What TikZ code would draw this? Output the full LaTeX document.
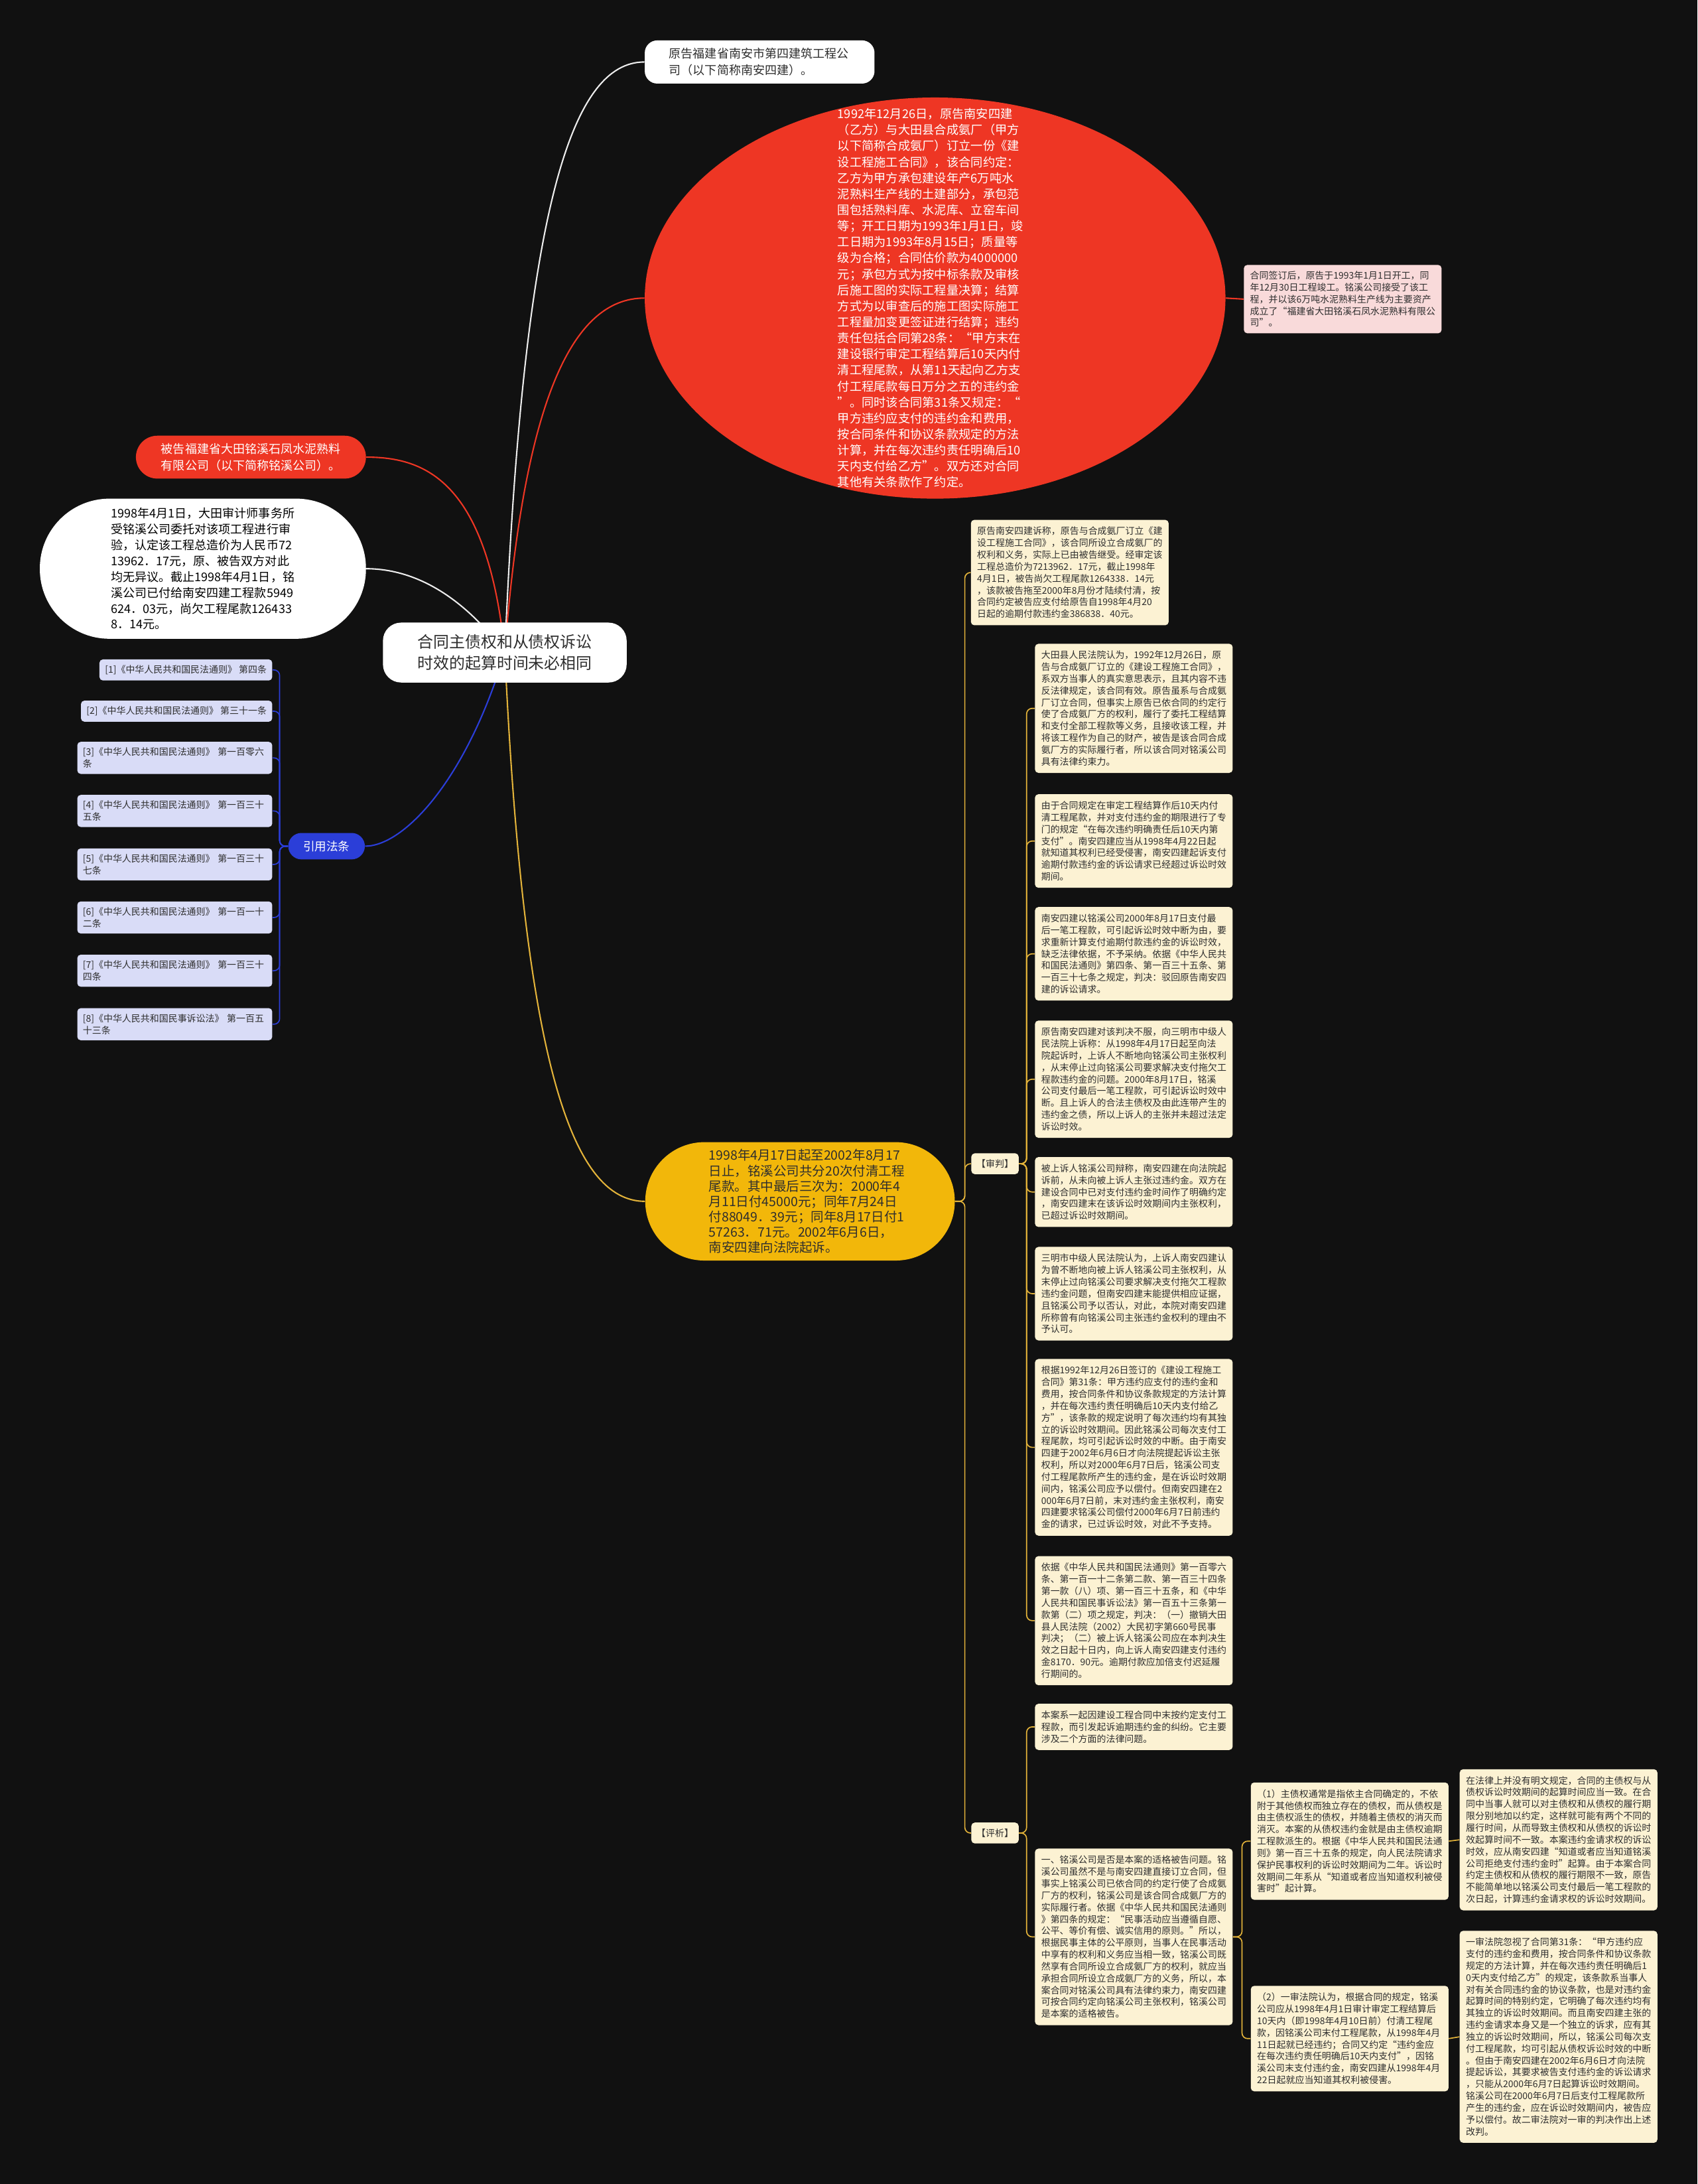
\documentclass[tikz,border=0pt]{standalone}
\usepackage{fontspec}
\setmainfont{Noto Sans CJK SC}
\usepackage{xcolor}
\usepackage{tikz}
\usetikzlibrary{positioning,shapes.geometric}
\definecolor{MindBg}{HTML}{111111}
\definecolor{MindRed}{HTML}{EE3624}
\definecolor{MindGold}{HTML}{F2B70A}
\definecolor{MindGoldLine}{HTML}{E3B33A}
\definecolor{MindCream}{HTML}{FCF2D3}
\definecolor{MindPink}{HTML}{F9DADA}
\definecolor{MindLav}{HTML}{D9DCF7}
\definecolor{MindBlue}{HTML}{2B3ED8}
\definecolor{MindInk}{HTML}{2E2E2E}
\definecolor{MindWhiteLine}{HTML}{EDEDED}
\pgfdeclarelayer{bg}
\pgfdeclarelayer{edges}
\pgfsetlayers{bg,edges,main}
\newcommand{\leaffont}{\fontsize{6.65}{8.5}\selectfont}
\tikzset{
  leafbox/.style={fill=MindCream,text=MindInk,rounded corners=2.5pt,inner xsep=4.5pt,inner ysep=5pt,
    text width=133pt,align=left,anchor=north west,font=\leaffont},
  lawbox/.style={fill=MindLav,text=MindInk,rounded corners=2.5pt,inner xsep=4pt,inner ysep=4.2pt,
    align=left,anchor=north east,font=\leaffont},
  tagbox/.style={fill=MindCream,text=MindInk,rounded corners=2.5pt,inner sep=0pt,
    minimum width=34pt,minimum height=15pt,font=\leaffont},
  goldedge/.style={draw=MindGoldLine,line width=0.8pt,rounded corners=4pt},
  blueedge/.style={draw=MindBlue,line width=0.8pt,rounded corners=4pt},
  rootedge/.style={line width=1pt},
}

\begin{document}
\begin{tikzpicture}[x=1pt,y=-1pt]
  \useasboundingbox (0,0) rectangle (1219,1568);
  \begin{pgfonlayer}{bg}
    \fill[MindBg] (0,0) rectangle (1219,1568);
  \end{pgfonlayer}

  % centre
  \node[fill=white,text=MindInk,rounded corners=13pt,minimum width=175pt,minimum height=43pt,
    align=center,font=\fontsize{11.4}{15}\selectfont] (root) at (362.5,468.5)
    {合同主债权和从债权诉讼\\时效的起算时间未必相同};

  % right side, top
  \node[fill=white,text=MindInk,rounded corners=9pt,minimum width=165pt,minimum height=31pt,
    text width=130pt,align=left,font=\fontsize{8.6}{11.9}\selectfont] (plaintiff) at (545.5,44.5)
    {原告福建省南安市第四建筑工程公\\司（以下简称南安四建）。};
  \node[ellipse,fill=MindRed,minimum width=417pt,minimum height=288pt,inner sep=0pt] (contract) at (671.5,214) {};
  \node[text=white,inner sep=0pt,text width=140pt,align=left,font=\fontsize{8.7}{11.5}\selectfont]
    (contracttext) at (contract.center) {1992年12月26日，原告南安四建\\
（乙方）与大田县合成氨厂（甲方\\
以下简称合成氨厂）订立一份《建\\
设工程施工合同》，该合同约定：\\
乙方为甲方承包建设年产6万吨水\\
泥熟料生产线的土建部分，承包范\\
围包括熟料库、水泥库、立窑车间\\
等；开工日期为1993年1月1日，竣\\
工日期为1993年8月15日；质量等\\
级为合格；合同估价款为4000000\\
元；承包方式为按中标条款及审核\\
后施工图的实际工程量决算；结算\\
方式为以审查后的施工图实际施工\\
工程量加变更签证进行结算；违约\\
责任包括合同第28条：“甲方末在\\
建设银行审定工程结算后10天内付\\
清工程尾款，从第11天起向乙方支\\
付工程尾款每日万分之五的违约金\\
”。同时该合同第31条又规定：“\\
甲方违约应支付的违约金和费用，\\
按合同条件和协议条款规定的方法\\
计算，并在每次违约责任明确后10\\
天内支付给乙方”。双方还对合同\\
其他有关条款作了约定。};
  \node[leafbox,fill=MindPink,inner ysep=4.5pt] (founded) at (893,190) {合同签订后，原告于1993年1月1日开工，同\\
年12月30日工程竣工。铭溪公司接受了该工\\
程，并以该6万吨水泥熟料生产线为主要资产\\
成立了“福建省大田铭溪石凤水泥熟料有限公\\
司”。};

  % left side
  \node[fill=MindRed,text=white,rounded corners=15.4pt,minimum width=165.2pt,minimum height=30.8pt,
    text width=129pt,align=left,inner sep=0pt,font=\fontsize{8.6}{11.9}\selectfont] (defendant) at (180.2,328.2)
    {被告福建省大田铭溪石凤水泥熟料\\有限公司（以下简称铭溪公司）。};
  \node[fill=white,text=black,rounded corners=50pt,minimum width=234.2pt,minimum height=100.6pt,
    text width=132pt,align=left,inner sep=0pt,font=\fontsize{8.6}{11.4}\selectfont] (audit) at (145.7,408.3)
    {1998年4月1日，大田审计师事务所\\
受铭溪公司委托对该项工程进行审\\
验，认定该工程总造价为人民币72\\
13962．17元，原、被告双方对此\\
均无异议。截止1998年4月1日，铭\\
溪公司已付给南安四建工程款5949\\
624．03元，尚欠工程尾款126433\\
8．14元。};
  \node[fill=MindBlue,text=white,rounded corners=9.5pt,minimum width=55pt,minimum height=19pt,
    inner sep=0pt,font=\fontsize{8.4}{10}\selectfont] (cite) at (234.5,607.5) {引用法条};

  \node[lawbox] (law1) at (195.7,473.2) {[1]《中华人民共和国民法通则》 第四条};
  \node[lawbox] (law2) at (195.7,502.8) {[2]《中华人民共和国民法通则》 第三十一条};
  \node[lawbox,text width=132pt] (law3) at (195.7,532.4) {[3]《中华人民共和国民法通则》 第一百零六\\条};
  \node[lawbox,text width=132pt] (law4) at (195.7,570.5) {[4]《中华人民共和国民法通则》 第一百三十\\五条};
  \node[lawbox,text width=132pt] (law5) at (195.7,608.9) {[5]《中华人民共和国民法通则》 第一百三十\\七条};
  \node[lawbox,text width=132pt] (law6) at (195.7,647.0) {[6]《中华人民共和国民法通则》 第一百一十\\二条};
  \node[lawbox,text width=132pt] (law7) at (195.7,685.2) {[7]《中华人民共和国民法通则》 第一百三十\\四条};
  \node[lawbox,text width=132pt] (law8) at (195.7,723.6) {[8]《中华人民共和国民事诉讼法》 第一百五\\十三条};

  % gold branch
  \node[fill=MindGold,text=MindInk,rounded corners=42.5pt,minimum width=222.3pt,minimum height=85pt,
    text width=131pt,align=left,inner sep=0pt,font=\fontsize{9.3}{11}\selectfont] (payment) at (574.5,862.5)
    {1998年4月17日起至2002年8月17\\
日止，铭溪公司共分20次付清工程\\
尾款。其中最后三次为：2000年4\\
月11日付45000元；同年7月24日\\
付88049．39元；同年8月17日付1\\
57263．71元。2002年6月6日，\\
南安四建向法院起诉。};

  \node[leafbox] (claim) at (697,373) {原告南安四建诉称，原告与合成氨厂订立《建\\
设工程施工合同》，该合同所设立合成氨厂的\\
权利和义务，实际上已由被告继受。经审定该\\
工程总造价为7213962．17元，截止1998年\\
4月1日，被告尚欠工程尾款1264338．14元\\
，该款被告拖至2000年8月份才陆续付清，按\\
合同约定被告应支付给原告自1998年4月20\\
日起的逾期付款违约金386838．40元。};
  \node[tagbox] (trial) at (714.5,835.5) {【审判】};
  \node[tagbox] (review) at (714.5,1316) {【评析】};

  \node[leafbox] (firstcourt) at (743,462) {大田县人民法院认为，1992年12月26日，原\\
告与合成氨厂订立的《建设工程施工合同》，\\
系双方当事人的真实意思表示，且其内容不违\\
反法律规定，该合同有效。原告虽系与合成氨\\
厂订立合同，但事实上原告已依合同的约定行\\
使了合成氨厂方的权利，履行了委托工程结算\\
和支付全部工程款等义务，且接收该工程，并\\
将该工程作为自己的财产，被告是该合同合成\\
氨厂方的实际履行者，所以该合同对铭溪公司\\
具有法律约束力。};
  \node[leafbox] (limitation) at (743,570) {由于合同规定在审定工程结算作后10天内付\\
清工程尾款，并对支付违约金的期限进行了专\\
门的规定“在每次违约明确责任后10天内第\\
支付”。南安四建应当从1998年4月22日起\\
就知道其权利已经受侵害，南安四建起诉支付\\
逾期付款违约金的诉讼请求已经超过诉讼时效\\
期间。};
  \node[leafbox] (rejected) at (743,651) {南安四建以铭溪公司2000年8月17日支付最\\
后一笔工程款，可引起诉讼时效中断为由，要\\
求重新计算支付逾期付款违约金的诉讼时效，\\
缺乏法律依据，不予采纳。依据《中华人民共\\
和国民法通则》第四条、第一百三十五条、第\\
一百三十七条之规定，判决：驳回原告南安四\\
建的诉讼请求。};
  \node[leafbox] (appeal) at (743,732.5) {原告南安四建对该判决不服，向三明市中级人\\
民法院上诉称：从1998年4月17日起至向法\\
院起诉时，上诉人不断地向铭溪公司主张权利\\
，从末停止过向铭溪公司要求解决支付拖欠工\\
程款违约金的问题。2000年8月17日，铭溪\\
公司支付最后一笔工程款，可引起诉讼时效中\\
断。且上诉人的合法主债权及由此连带产生的\\
违约金之债，所以上诉人的主张并未超过法定\\
诉讼时效。};
  \node[leafbox] (defense) at (743,830.5) {被上诉人铭溪公司辩称，南安四建在向法院起\\
诉前，从未向被上诉人主张过违约金。双方在\\
建设合同中已对支付违约金时间作了明确约定\\
，南安四建末在该诉讼时效期间内主张权利，\\
已超过诉讼时效期间。};
  \node[leafbox] (secondcourt) at (743,895) {三明市中级人民法院认为，上诉人南安四建认\\
为曾不断地向被上诉人铭溪公司主张权利，从\\
末停止过向铭溪公司要求解决支付拖欠工程款\\
违约金问题，但南安四建末能提供相应证据，\\
且铭溪公司予以否认，对此，本院对南安四建\\
所称曾有向铭溪公司主张违约金权利的理由不\\
予认可。};
  \node[leafbox] (clause) at (743,975.5) {根据1992年12月26日签订的《建设工程施工\\
合同》第31条：甲方违约应支付的违约金和\\
费用，按合同条件和协议条款规定的方法计算\\
，并在每次违约责任明确后10天内支付给乙\\
方”，该条款的规定说明了每次违约均有其独\\
立的诉讼时效期间。因此铭溪公司每次支付工\\
程尾款，均可引起诉讼时效的中断。由于南安\\
四建于2002年6月6日才向法院提起诉讼主张\\
权利，所以对2000年6月7日后，铭溪公司支\\
付工程尾款所产生的违约金，是在诉讼时效期\\
间内，铭溪公司应予以偿付。但南安四建在2\\
000年6月7日前，末对违约金主张权利，南安\\
四建要求铭溪公司偿付2000年6月7日前违约\\
金的请求，已过诉讼时效，对此不予支持。};
  \node[leafbox] (verdict) at (743,1117) {依据《中华人民共和国民法通则》第一百零六\\
条、第一百一十二条第二款、第一百三十四条\\
第一款（八）项、第一百三十五条，和《中华\\
人民共和国民事诉讼法》第一百五十三条第一\\
款第（二）项之规定，判决：（一）撤销大田\\
县人民法院（2002）大民初字第660号民事\\
判决；（二）被上诉人铭溪公司应在本判决生\\
效之日起十日内，向上诉人南安四建支付违约\\
金8170．90元。逾期付款应加倍支付迟延履\\
行期间的。};

  \node[leafbox] (summary) at (743,1223) {本案系一起因建设工程合同中末按约定支付工\\
程款，而引发起诉逾期违约金的纠纷。它主要\\
涉及二个方面的法律问题。};
  \node[leafbox] (issueone) at (743,1327) {一、铭溪公司是否是本案的适格被告问题。铭\\
溪公司虽然不是与南安四建直接订立合同，但\\
事实上铭溪公司已依合同的约定行使了合成氨\\
厂方的权利，铭溪公司是该合同合成氨厂方的\\
实际履行者。依据《中华人民共和国民法通则\\
》第四条的规定：“民事活动应当遵循自愿、\\
公平、等价有偿、诚实信用的原则。”所以，\\
根据民事主体的公平原则，当事人在民事活动\\
中享有的权利和义务应当相一致，铭溪公司既\\
然享有合同所设立合成氨厂方的权利，就应当\\
承担合同所设立合成氨厂方的义务，所以，本\\
案合同对铭溪公司具有法律约束力，南安四建\\
可按合同约定向铭溪公司主张权利，铭溪公司\\
是本案的适格被告。};
  \node[leafbox] (mainclaim) at (898,1279.5) {（1）主债权通常是指依主合同确定的，不依\\
附于其他债权而独立存在的债权，而从债权是\\
由主债权派生的债权，并随着主债权的消灭而\\
消灭。本案的从债权违约金就是由主债权逾期\\
工程款派生的。根据《中华人民共和国民法通\\
则》第一百三十五条的规定，向人民法院请求\\
保护民事权利的诉讼时效期间为二年。诉讼时\\
效期间二年系从“知道或者应当知道权利被侵\\
害时”起计算。};
  \node[leafbox] (firstview) at (898,1425.5) {（2）一审法院认为，根据合同的规定，铭溪\\
公司应从1998年4月1日审计审定工程结算后\\
10天内（即1998年4月10日前）付清工程尾\\
款，因铭溪公司末付工程尾款，从1998年4月\\
11日起就已经违约；合同又约定“违约金应\\
在每次违约责任明确后10天内支付”，因铭\\
溪公司末支付违约金，南安四建从1998年4月\\
22日起就应当知道其权利被侵害。};
  \node[leafbox] (nolaw) at (1048,1270) {在法律上并没有明文规定，合同的主债权与从\\
债权诉讼时效期间的起算时间应当一致。在合\\
同中当事人就可以对主债权和从债权的履行期\\
限分别地加以约定，这样就可能有两个不同的\\
履行时间，从而导致主债权和从债权的诉讼时\\
效起算时间不一致。本案违约金请求权的诉讼\\
时效，应从南安四建“知道或者应当知道铭溪\\
公司拒绝支付违约金时”起算。由于本案合同\\
约定主债权和从债权的履行期限不一致，原告\\
不能简单地以铭溪公司支付最后一笔工程款的\\
次日起，计算违约金请求权的诉讼时效期间。};
  \node[leafbox] (ignored) at (1048,1386) {一审法院忽视了合同第31条：“甲方违约应\\
支付的违约金和费用，按合同条件和协议条款\\
规定的方法计算，并在每次违约责任明确后1\\
0天内支付给乙方”的规定，该条款系当事人\\
对有关合同违约金的协议条款，也是对违约金\\
起算时间的特别约定，它明确了每次违约均有\\
其独立的诉讼时效期间。而且南安四建主张的\\
违约金请求本身又是一个独立的诉求，应有其\\
独立的诉讼时效期间，所以，铭溪公司每次支\\
付工程尾款，均可引起从债权诉讼时效的中断\\
。但由于南安四建在2002年6月6日才向法院\\
提起诉讼，其要求被告支付违约金的诉讼请求\\
，只能从2000年6月7日起算诉讼时效期间。\\
铭溪公司在2000年6月7日后支付工程尾款所\\
产生的违约金，应在诉讼时效期间内，被告应\\
予以偿付。故二审法院对一审的判决作出上述\\
改判。};

  % connectors
  \begin{pgfonlayer}{edges}
    \draw[MindWhiteLine,rootedge] (root.center) .. controls (376,150) and (410,44.5) .. (plaintiff.west);
    \draw[MindRed,rootedge] (root.center) .. controls (376,290) and (410,214) .. (contract.west);
    \draw[MindRed,rootedge] (contract.east) -- (founded.west);
    \draw[MindGoldLine,rootedge] (root.center) .. controls (376,760) and (410,862.5) .. (payment.west);
    \draw[MindRed,rootedge] (root.center) .. controls (350,345) and (305,328.2) .. (defendant.east);
    \draw[MindWhiteLine,rootedge] (root.center) .. controls (330,425) and (295,408.3) .. (audit.east);
    \draw[MindBlue,rootedge] (root.center) .. controls (335,560) and (290,607.5) .. (cite.east);
    \foreach \n in {1,...,8}
      \draw[blueedge] (cite.west) -- ++(-6,0) |- (law\n.east);
    \foreach \k in {claim,trial,review}
      \draw[goldedge] (payment.east) -- ++(7,0) |- (\k.west);
    \foreach \k in {firstcourt,limitation,rejected,appeal,defense,secondcourt,clause,verdict}
      \draw[goldedge] (trial.east) -- ++(5.5,0) |- (\k.west);
    \foreach \k in {summary,issueone}
      \draw[goldedge] (review.east) -- ++(5.5,0) |- (\k.west);
    \foreach \k in {mainclaim,firstview}
      \draw[goldedge] (issueone.east) -- ++(6.5,0) |- (\k.west);
    \draw[goldedge] (mainclaim.east) -- (nolaw.west);
    \draw[goldedge] (firstview.east) -- (ignored.west);
  \end{pgfonlayer}
\end{tikzpicture}
\end{document}
